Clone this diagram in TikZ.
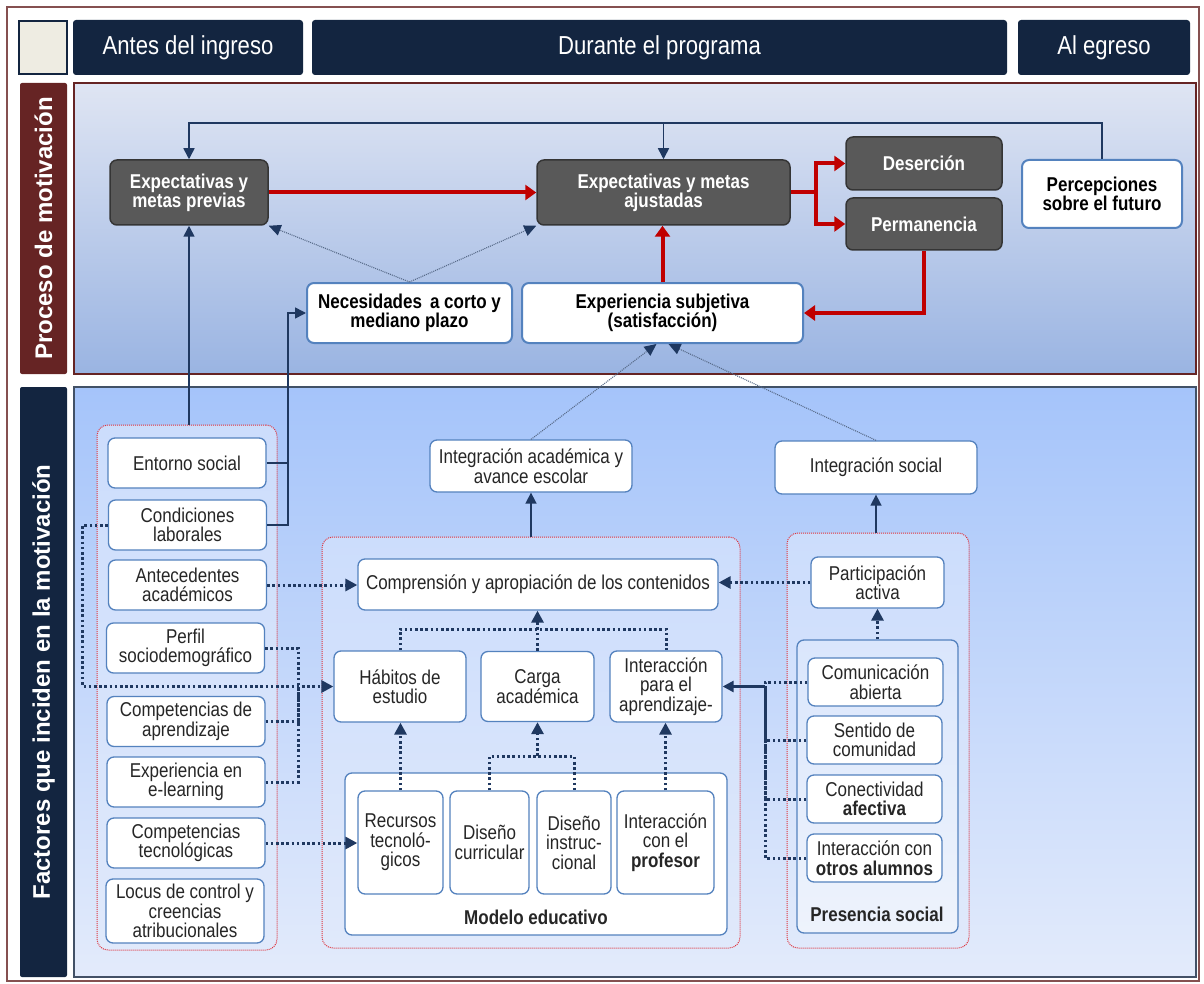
\documentclass[tikz,border=0pt]{standalone}
\usepackage{fontspec}
\setmainfont{Liberation Sans}[FakeStretch=0.85]
\newfontfamily\sidefont{Liberation Sans}
\usetikzlibrary{arrows.meta, positioning, calc}
\definecolor{navy}{RGB}{19,37,64}
\definecolor{sidered}{RGB}{102,36,36}
\definecolor{beige}{RGB}{238,236,226}
\definecolor{boxgray}{RGB}{89,89,89}
\definecolor{lineblue}{RGB}{84,130,190}
\definecolor{arrowred}{RGB}{192,0,0}
\definecolor{linknavy}{RGB}{31,56,96}
\definecolor{grpred}{RGB}{222,52,62}
\definecolor{txtgray}{RGB}{38,38,38}
\definecolor{grptop}{RGB}{204,221,252}
\definecolor{grpbot}{RGB}{224,233,251}

\begin{document}
\begin{tikzpicture}[x=1pt, y=-1pt,
    hdr/.style={fill=navy, rounded corners=3pt, text=white, inner sep=0pt,
      font=\fontsize{26}{28}\selectfont},
    side/.style={rotate=90, rounded corners=2pt, text=white, inner sep=0pt,
      font=\sidefont\bfseries\fontsize{24}{26}\selectfont},
    gbox/.style={fill=boxgray, draw=boxgray!60!black, line width=1.5pt, rounded corners=7pt,
      text=white, align=center, inner sep=2pt, font=\bfseries\fontsize{20}{19}\selectfont},
    wbox/.style={fill=white, draw=lineblue, line width=2pt, rounded corners=7pt,
      text=black, align=center, inner sep=2pt, font=\bfseries\fontsize{20}{19}\selectfont},
    fbox/.style={fill=white, draw=lineblue, line width=1.3pt, rounded corners=7pt,
      text=txtgray, align=center, inner sep=1pt, font=\fontsize{20}{19.5}\selectfont},
    fact/.style={fbox, minimum width=158pt, minimum height=50pt},
    grp/.style={draw=grpred, line width=1pt, dash pattern=on 1pt off 1pt, rounded corners=11pt,
      top color=grptop, bottom color=grpbot},
    lbl/.style={text=txtgray, font=\bfseries\fontsize{20}{20}\selectfont},
    rarrow/.style={draw=arrowred, line width=4pt, -{Triangle[length=11pt, width=15pt]}},
    rline/.style={draw=arrowred, line width=4pt},
    link/.style={draw=linknavy, line width=1.6pt, -{Triangle[length=11pt, width=11pt]}},
    dline/.style={draw=linknavy, line width=3pt, dash pattern=on 2.6pt off 2.6pt},
    dlink/.style={dline, -{Triangle[length=12pt, width=12pt]}},
    flink/.style={draw=linknavy!75, line width=1.1pt, dash pattern=on 1pt off 1pt,
      -{Triangle[length=12pt, width=11pt, color=linknavy]}},
  ]
  \useasboundingbox (0,0) rectangle (1204,984);

  % Outer frame
  \draw[draw=sidered!80, line width=1.2pt] (7,7) rectangle (1199,981);

  % Header row
  \node[fill=beige, draw=navy, line width=1.5pt, minimum width=48pt, minimum height=53pt] (corner) at (43,47.5) {};
  \node[hdr, minimum width=230pt, minimum height=55pt] (antes) at (188,47.5) {Antes del ingreso};
  \node[hdr, minimum width=695pt, minimum height=55pt] (durante) at (659.5,47.5) {Durante el programa};
  \node[hdr, minimum width=172pt, minimum height=55pt] (egreso) at (1104,47.5) {Al egreso};

  % Side bars
  \node[side, fill=sidered, minimum width=291pt, minimum height=47pt] (proc) at (43.5,228.5) {Proceso de motivación};
  \node[side, fill=navy, minimum width=590pt, minimum height=47pt] (fact) at (43.5,682) {Factores que inciden en la motivación};

  % Panels
  \draw[draw=sidered, line width=1.2pt, top color={rgb,255:red,223;green,229;blue,243},
    bottom color={rgb,255:red,154;green,180;blue,226}] (74,83) rectangle (1196,374);
  \draw[draw=navy!80, line width=1.2pt, top color={rgb,255:red,165;green,196;blue,250},
    bottom color={rgb,255:red,227;green,235;blue,251}] (74,387) rectangle (1196,977);

  % Proceso de motivacion
  \node[gbox, minimum width=158pt, minimum height=65pt] (prev) at (189,192.5) {Expectativas y\\metas previas};
  \node[gbox, minimum width=253pt, minimum height=65pt] (ajus) at (663.5,192.5) {Expectativas y metas\\ajustadas};
  \node[gbox, minimum width=156pt, minimum height=53pt] (deser) at (924,163.5) {Deserción};
  \node[gbox, minimum width=156pt, minimum height=52pt] (perm) at (924,224) {Permanencia};
  \node[wbox, minimum width=160pt, minimum height=68pt] (percep) at (1102,194) {Percepciones\\sobre el futuro};
  \node[wbox, minimum width=205pt, minimum height=60pt] (neces) at (409.5,313) {Necesidades\, a corto y\\mediano plazo};
  \node[wbox, minimum width=281pt, minimum height=60pt] (exper) at (662.5,313) {Experiencia subjetiva\\(satisfacción)};

  \draw[rarrow] (prev) -- (ajus);
  \draw[rline] (ajus.east) -- ++(25,0) coordinate (split);
  \draw[rarrow] (split) |- (deser.west);
  \draw[rarrow] (split) |- (perm.west);
  \draw[rarrow] (perm.south) |- (exper.east);
  \draw[rarrow] (exper.north) -- (exper.north |- ajus.south);

  \draw[link] (percep.north) |- (prev.north |- 0,123) -- (prev.north);
  \draw[link] (percep.north) |- (ajus.north |- 0,123) -- (ajus.north);

  \draw[flink] (neces.north) -- (prev.south east);
  \draw[flink] (neces.north) -- (ajus.south west);

  % Groups
  \node[grp, minimum width=180pt, minimum height=525pt] (lgrp) at (187,687.5) {};
  \node[grp, minimum width=418pt, minimum height=411pt] (mgrp) at (531,742.5) {};
  \node[grp, minimum width=182pt, minimum height=415pt] (rgrp) at (878,740.5) {};

  % Antes del ingreso
  \node[fact] (entorno) at (187,463) {Entorno social};
  \node[fact] (condic) at (187.5,525) {Condiciones\\laborales};
  \node[fact] (antec) at (187.5,585) {Antecedentes\\académicos};
  \node[fact] (perfil) at (185.5,648) {Perfil\\sociodemográfico};
  \node[fact] (compap) at (186,721.5) {Competencias de\\aprendizaje};
  \node[fact] (expel) at (186,782) {Experiencia en\\e-learning};
  \node[fact] (comptec) at (186,843) {Competencias\\tecnológicas};
  \node[fact, minimum height=64pt] (locus) at (185,911) {Locus de control y\\creencias\\atribucionales};

  % Modelo educativo
  \node[fbox, minimum width=202pt, minimum height=52pt] (intAcad) at (531,466) {Integración académica y\\avance escolar};
  \node[fbox, minimum width=360pt, minimum height=51pt] (compr) at (538,584.5) {Comprensión y apropiación de los contenidos};
  \node[fbox, minimum width=132pt, minimum height=71pt] (habitos) at (400,686.5) {Hábitos de\\estudio};
  \node[fbox, minimum width=113pt, minimum height=70pt] (carga) at (537.5,686.5) {Carga\\académica};
  \node[fbox, minimum width=112pt, minimum height=71pt] (interap) at (666,686.5) {Interacción\\para el\\aprendizaje-};
  \node[fbox, minimum width=382pt, minimum height=162pt] (modelo) at (536,854) {};
  \node[fbox, minimum width=85pt, minimum height=103pt] (recursos) at (400.5,842.5) {Recursos\\tecnoló-\\gicos};
  \node[fbox, minimum width=79pt, minimum height=103pt] (disCur) at (489.5,842.5) {Diseño\\curricular};
  \node[fbox, minimum width=74pt, minimum height=103pt] (disIns) at (574,842.5) {Diseño\\instruc-\\cional};
  \node[fbox, minimum width=97pt, minimum height=103pt] (intProf) at (665.5,842.5) {Interacción\\con el\\\textbf{profesor}};
  \node[lbl] (modLbl) at (536,917) {Modelo educativo};

  % Presencia social
  \node[fbox, minimum width=202pt, minimum height=53pt] (intSoc) at (876,467.5) {Integración social};
  \node[fbox, minimum width=133pt, minimum height=51pt] (partic) at (877.5,582.5) {Participación\\activa};
  \node[fbox, minimum width=161pt, minimum height=293pt, top color={rgb,255:red,218;green,230;blue,252},
    bottom color={rgb,255:red,238;green,243;blue,252}] (presen) at (877.5,786.5) {};
  \node[fbox, minimum width=135pt, minimum height=48pt] (comun) at (875.5,682) {Comunicación\\abierta};
  \node[fbox, minimum width=135pt, minimum height=48pt] (sentido) at (874.5,740) {Sentido de\\comunidad};
  \node[fbox, minimum width=135pt, minimum height=48pt] (conect) at (874.5,799) {Conectividad\\\textbf{afectiva}};
  \node[fbox, minimum width=135pt, minimum height=48pt] (intAl) at (874.5,858) {Interacción con\\\textbf{otros alumnos}};
  \node[lbl] (presLbl) at (877,914) {Presencia social};

  % Links to the process
  \draw[link] (lgrp.north -| prev.south) -- (prev.south);
  \coordinate (jn) at (288,463);
  \draw[link] (entorno.east) -- (jn) |- (neces.west);
  \draw[draw=linknavy, line width=1.6pt] (condic.east) -| (jn);
  \draw[link] (mgrp.north -| intAcad.south) -- (intAcad.south);
  \draw[link] (rgrp.north -| intSoc.south) -- (intSoc.south);
  \draw[flink] (intAcad.north) -- ([xshift=-6pt]exper.south);
  \draw[flink] (intSoc.north) -- ([xshift=6pt]exper.south);

  % Dotted influences
  \draw[dlink] (antec.east) -- (antec.east -| compr.west);
  \draw[dlink] (partic.west) -- (partic.west -| compr.east);
  \coordinate (tj) at (537.5,629);
  \draw[dline] (habitos.north) |- (tj) -| (interap.north);
  \draw[dlink] (carga.north) -- (carga.north |- compr.south);
  \draw[dlink] (recursos.north) -- (recursos.north |- habitos.south);
  \coordinate (dj) at (537.5,756);
  \draw[dline] (disCur.north) |- (dj) -| (disIns.north);
  \draw[dlink] (dj) -- (carga.south);
  \draw[dlink] (intProf.north) -- (intProf.north |- interap.south);
  \draw[dlink] (comptec.east) -- (comptec.east -| recursos.west);
  \draw[dlink] (condic.west) -- ++(-25,0) |- (habitos.west);
  \coordinate (lj) at (298,686.5);
  \draw[dline] (perfil.east) -| (lj);
  \draw[dline] (compap.east) -| (lj);
  \draw[dline] (expel.east) -| (lj);
  \coordinate (rj) at (765,686.5);
  \draw[dline] (comun.west) -| (rj);
  \draw[dline] (sentido.west) -| (rj);
  \draw[dline] (conect.west) -| (rj);
  \draw[dline] (intAl.west) -| (rj);
  \draw[link, line width=2.6pt] (rj) -- (interap.east);
  \draw[dlink] (presen.north) -- (partic.south);
\end{tikzpicture}
\end{document}
